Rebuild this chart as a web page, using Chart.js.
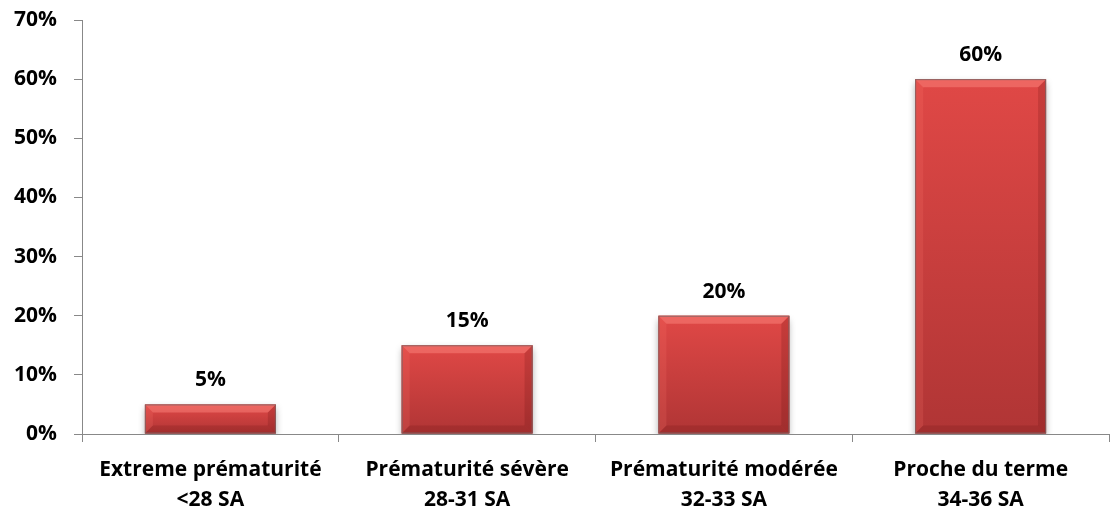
<!DOCTYPE html>
<html><head><meta charset="utf-8">
<script src="https://cdn.jsdelivr.net/npm/chart.js@4"></script>
<style>html,body{margin:0;padding:0;background:#fff}#w{width:1111px;height:512px}</style>
</head><body><div id="w"><canvas id="c"></canvas></div>
<script>
const categories = [
  ['Extreme prématurité', '<28 SA'],
  ['Prématurité sévère', '28-31 SA'],
  ['Prématurité modérée', '32-33 SA'],
  ['Proche du terme', '34-36 SA']
];
const values = [5, 15, 20, 60];
const yMax = 70;
const yStep = 10;

const FONT = '"Open Sans", Lato, sans-serif';

const barStyle = {
  id: 'barStyle',
  beforeDatasetDraw(chart) {
    const ctx = chart.ctx;
    ctx.save();
    ctx.shadowColor = 'rgba(0,0,0,0.35)';
    ctx.shadowBlur = 7;
    ctx.shadowOffsetY = 4;
  },
  afterDatasetDraw(chart) {
    const ctx = chart.ctx;
    ctx.restore();
    const meta = chart.getDatasetMeta(0);
    meta.data.forEach(el => {
      const w = el.width, x0 = el.x - w / 2, x1 = el.x + w / 2, y0 = el.y, y1 = el.base;
      const h = y1 - y0;
      ctx.save();
      const g = ctx.createLinearGradient(0, y0, 0, y1);
      g.addColorStop(0, '#e04846');
      g.addColorStop(1, '#b03535');
      ctx.fillStyle = g;
      ctx.fillRect(x0, y0, w, h);
      const b = Math.min(8, h / 2.5);
      ctx.beginPath();
      ctx.moveTo(x0, y0); ctx.lineTo(x1, y0); ctx.lineTo(x1 - b, y0 + b); ctx.lineTo(x0 + b, y0 + b); ctx.closePath();
      ctx.fillStyle = 'rgba(255,140,130,0.45)'; ctx.fill();
      ctx.beginPath();
      ctx.moveTo(x0, y0); ctx.lineTo(x0 + b, y0 + b); ctx.lineTo(x0 + b, y1 - b); ctx.lineTo(x0, y1); ctx.closePath();
      ctx.fillStyle = 'rgba(255,120,110,0.18)'; ctx.fill();
      ctx.beginPath();
      ctx.moveTo(x1, y0); ctx.lineTo(x1 - b, y0 + b); ctx.lineTo(x1 - b, y1 - b); ctx.lineTo(x1, y1); ctx.closePath();
      ctx.fillStyle = 'rgba(90,10,10,0.18)'; ctx.fill();
      ctx.beginPath();
      ctx.moveTo(x0, y1); ctx.lineTo(x0 + b, y1 - b); ctx.lineTo(x1 - b, y1 - b); ctx.lineTo(x1, y1); ctx.closePath();
      ctx.fillStyle = 'rgba(80,10,10,0.15)'; ctx.fill();
      ctx.strokeStyle = 'rgba(120,100,100,0.8)';
      ctx.lineWidth = 1;
      ctx.strokeRect(x0 + 0.5, y0 + 0.5, w - 1, h - 1);
      ctx.restore();
    });
  },
  afterDraw(chart) {
    const ctx = chart.ctx;
    const meta = chart.getDatasetMeta(0);
    ctx.save();
    ctx.font = 'bold 21px ' + FONT;
    ctx.fillStyle = '#000';
    ctx.textAlign = 'center';
    ctx.textBaseline = 'middle';
    meta.data.forEach((el, i) => {
      ctx.fillText(values[i] + '%', el.x, el.y - 24);
    });
    ctx.restore();
  }
};

new Chart(document.getElementById('c'), {
  type: 'bar',
  data: {
    labels: categories,
    datasets: [{ data: values, backgroundColor: '#c43c3a', borderWidth: 0, barPercentage: 0.51, categoryPercentage: 1 }]
  },
  options: {
    responsive: true,
    maintainAspectRatio: false,
    animation: false,
    layout: { padding: { top: 20, right: 2, left: 0, bottom: 0 } },
    plugins: { legend: { display: false }, tooltip: { enabled: false } },
    scales: {
      x: {
        afterFit(scale) { scale.height = 78; },
        grid: { drawOnChartArea: false, drawTicks: true, tickLength: 8, color: '#888', offset: true },
        border: { color: '#888', width: 1 },
        ticks: { color: '#000', font: { family: FONT, size: 21, weight: 'bold', lineHeight: 1.43 }, padding: 13, maxRotation: 0 }
      },
      y: {
        min: 0, max: yMax,
        afterFit(scale) { scale.width = 82; scale.paddingTop = 0; scale.paddingBottom = 0; },
        grid: { drawOnChartArea: false, drawTicks: true, tickLength: 8, color: '#888' },
        border: { color: '#888', width: 1 },
        ticks: { stepSize: yStep, color: '#000', padding: 17, font: { family: FONT, size: 21, weight: 'bold' }, callback: v => v + '%' }
      }
    }
  },
  plugins: [barStyle]
});
</script></body></html>
